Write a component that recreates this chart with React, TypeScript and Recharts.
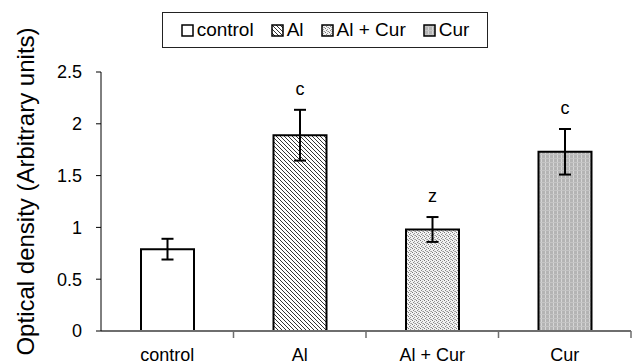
import React from 'react';
import { BarChart, Bar, XAxis, YAxis, Cell, ErrorBar, LabelList } from 'recharts';

const categories = ['control', 'Al', 'Al + Cur', 'Cur'];
const means = [0.79, 1.89, 0.98, 1.73];
const errors = [0.1, 0.245, 0.12, 0.22];
const letters = ['', 'c', 'z', 'c'];
const yTicks = [0, 0.5, 1, 1.5, 2, 2.5];

const fills = ['#ffffff', 'url(#hatchAl)', 'url(#dotsAlCur)', 'url(#gridCur)'];

const data = categories.map((name, i) => ({
    name,
    value: means[i],
    err: errors[i],
    letter: letters[i],
}));

const FONT = '"Liberation Sans", Arial, sans-serif';

// shared fill patterns, used by the bars and the legend swatches
const Patterns: React.FC = () => (
    <svg width={0} height={0} style={{ position: 'absolute' }}>
        <defs>
            <pattern id="hatchAl" width={4} height={4} patternUnits="userSpaceOnUse">
                <rect width={4} height={4} fill="#fff" />
                <path d="M0,0 L4,4 M-1,3 L1,5 M3,-1 L5,1" stroke="#333" strokeWidth={1} />
            </pattern>
            <pattern id="dotsAlCur" width={4} height={4} patternUnits="userSpaceOnUse">
                <rect width={4} height={4} fill="#f2f2f2" />
                <rect x={0} y={0} width={1} height={1} fill="#777" />
                <rect x={2} y={1} width={1} height={1} fill="#999" />
                <rect x={1} y={2} width={1} height={1} fill="#888" />
                <rect x={3} y={3} width={1} height={1} fill="#999" />
                <rect x={2} y={3} width={1} height={1} fill="#bbb" />
            </pattern>
            <pattern id="gridCur" width={4} height={4} patternUnits="userSpaceOnUse">
                <rect width={4} height={4} fill="#b4b4b4" />
                <rect x={1} y={0} width={1} height={4} fill="#d6d6d6" />
                <rect x={0} y={2} width={4} height={1} fill="#c4c4c4" />
            </pattern>
        </defs>
    </svg>
);

const XTick = (props: any) => {
    const { x, y, payload } = props;
    const half = payload.offset ?? 0;
    return (
        <g>
            <line x1={x + half} x2={x + half} y1={y} y2={y + 7} stroke="#6e6e6e" strokeWidth={1.5} />
            <text x={x} y={y + 30} textAnchor="middle" fontSize={18} fill="#000" fontFamily={FONT}>
                {payload.value}
            </text>
        </g>
    );
};

const LetterLabel = (props: any) => {
    const { x, y, width, height, index, value } = props;
    if (!value) return null;
    const d = data[index];
    const top = y - (d.err / d.value) * height;
    return (
        <text x={x + width / 2} y={top - 15} textAnchor="middle" fontSize={18} fill="#000" fontFamily={FONT}>
            {value}
        </text>
    );
};

const YTitle = (props: any) => {
    const vb = props.viewBox;
    return (
        <text
            transform={`translate(25, ${vb.y + vb.height / 2 - 10}) rotate(-90)`}
            textAnchor="middle"
            dominantBaseline="central"
            fontSize={24}
            fill="#000"
            fontFamily={FONT}
        >
            Optical density (Arbitrary units)
        </text>
    );
};

const ChartLegend: React.FC = () => (
    <div
        style={{
            position: 'absolute',
            left: 162,
            top: 12,
            width: 326,
            height: 36,
            boxSizing: 'border-box',
            border: '1px solid #222',
            display: 'flex',
            alignItems: 'center',
            justifyContent: 'center',
            gap: 17,
            fontFamily: FONT,
            fontSize: 19,
            color: '#000',
            background: '#fff',
        }}
    >
        {categories.map((c, i) => (
            <div key={c} style={{ display: 'flex', alignItems: 'center', gap: 3 }}>
                <svg width={13} height={13}>
                    <rect x={1} y={1} width={11} height={11} fill={fills[i]} stroke="#000" strokeWidth={1.5} />
                </svg>
                <span>{c}</span>
            </div>
        ))}
    </div>
);

export default function App() {
    return (
        <div style={{ position: 'relative', width: 635, height: 364, background: '#fff' }}>
            <style>{'body{margin:0}'}</style>
            <Patterns />
            <BarChart
                width={635}
                height={364}
                data={data}
                margin={{ top: 72, right: 4, bottom: 0, left: 0 }}
            >
                <XAxis
                    dataKey="name"
                    interval={0}
                    height={33}
                    tickLine={false}
                    tickSize={0}
                    tickMargin={0}
                    tick={<XTick />}
                    axisLine={{ stroke: '#6e6e6e', strokeWidth: 2 }}
                />
                <YAxis
                    width={101}
                    domain={[0, 2.5]}
                    ticks={yTicks}
                    tickSize={5}
                    tickMargin={14}
                    axisLine={{ stroke: '#000', strokeWidth: 1 }}
                    tickLine={{ stroke: '#000', strokeWidth: 1 }}
                    tick={{ fontSize: 18, fill: '#000', fontFamily: FONT }}
                    label={{ content: YTitle }}
                />
                <Bar dataKey="value" barSize={53} stroke="#000" strokeWidth={2} isAnimationActive={false}>
                    {data.map((d, i) => (
                        <Cell key={d.name} fill={fills[i]} />
                    ))}
                    <ErrorBar dataKey="err" width={6} stroke="#000" strokeWidth={2} direction="y" />
                    <LabelList dataKey="letter" content={LetterLabel} />
                </Bar>
            </BarChart>
            <ChartLegend />
        </div>
    );
}
